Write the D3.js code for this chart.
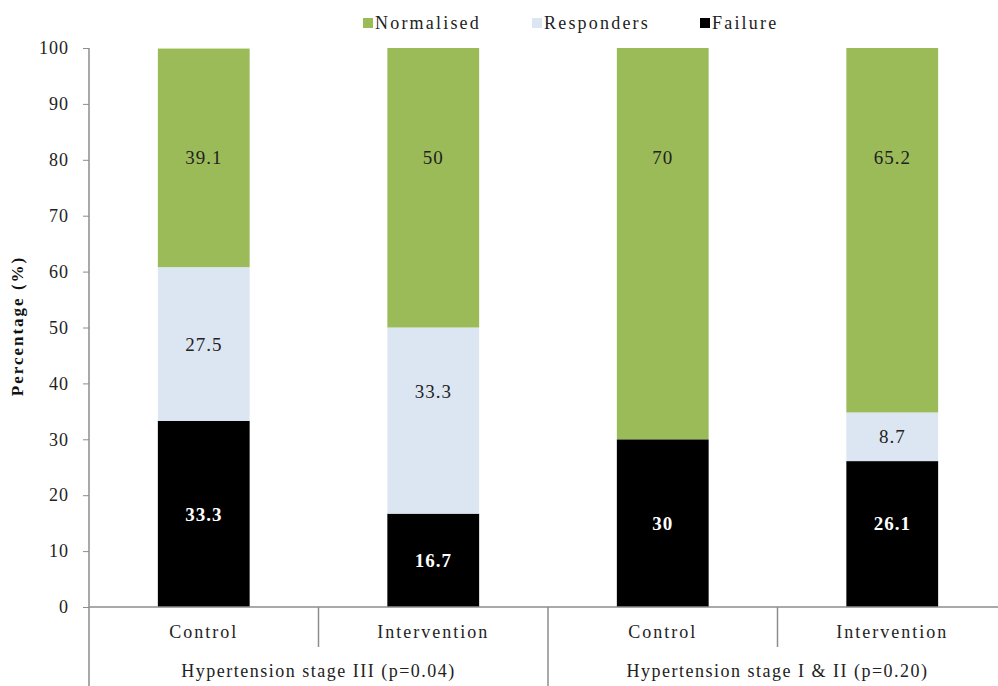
<!DOCTYPE html>
<html><head><meta charset="utf-8">
<script src="https://cdn.jsdelivr.net/npm/d3@7"></script>
<style>body{margin:0;background:#fff}</style>
</head><body>
<svg id="c" width="998" height="686"></svg>
<script>
const categories = ["Control","Intervention","Control","Intervention"];
const groups = ["Hypertension stage III (p=0.04)","Hypertension stage I & II (p=0.20)"];
const failure = [33.3,16.7,30,26.1];
const responders = [27.5,33.3,0,8.7];
const normalised = [39.1,50,70,65.2];
const seriesNames = ["Normalised","Responders","Failure"];
const yTicks = [0,10,20,30,40,50,60,70,80,90,100];
const colors = {Failure:"#000000",Responders:"#DCE6F2",Normalised:"#9BBB59"};
// layout: where the data labels sit (in axis units), null = middle of segment
const labelAnchor = {
  Failure:[null,null,null,15],
  Responders:[null,38.5,null,null],
  Normalised:[80.4,80.4,80.4,80.4]
};

const svg = d3.select("#c");
const font = "'Liberation Serif','Times New Roman',serif";
const x0 = 89, x1 = 1007, yTop = 48, yBot = 607;
const y = d3.scaleLinear().domain([0,100]).range([yBot,yTop]);
const x = d3.scaleBand().domain(d3.range(categories.length)).range([x0,x1]).paddingInner(0.6).paddingOuter(0.3);
const xb = d3.scaleBand().domain(d3.range(categories.length)).range([x0,x1]);

const rows = categories.map((c,i)=>({i,Failure:failure[i],Responders:responders[i],Normalised:normalised[i]}));
const stack = d3.stack().keys(["Failure","Responders","Normalised"])(rows);

stack.forEach(layer=>{
  svg.append("g").selectAll("rect").data(layer).join("rect")
    .attr("x",d=>x(d.data.i)).attr("width",x.bandwidth())
    .attr("y",d=>y(d[1])).attr("height",d=>y(d[0])-y(d[1]))
    .attr("fill",colors[layer.key]);
});
stack.forEach(layer=>{
  svg.append("g").selectAll("text").data(layer.filter(d=>d[1]-d[0]>0)).join("text")
    .attr("x",d=>x(d.data.i)+x.bandwidth()/2)
    .attr("y",d=>{const a=labelAnchor[layer.key][d.data.i];return y(a==null?(d[0]+d[1])/2:a);})
    .attr("dy","0.35em")
    .attr("text-anchor","middle")
    .attr("font-family",font).attr("font-size",19).attr("letter-spacing",1)
    .attr("font-weight",layer.key==="Failure"?"bold":"normal")
    .attr("fill",layer.key==="Failure"?"#fff":"#222")
    .text(d=>d.data[layer.key]);
});

// y axis
const axisColor="#8c8c8c";
const ya = svg.append("g").attr("transform",`translate(${x0},0)`)
  .call(d3.axisLeft(y).tickValues(yTicks).tickSize(6).tickPadding(14));
ya.select(".domain").remove();
ya.selectAll("line").attr("stroke",axisColor);
ya.selectAll("text").attr("font-family",font).attr("font-size",18).attr("letter-spacing",1).attr("fill","#222");
svg.append("line").attr("x1",x0).attr("x2",x0).attr("y1",yTop).attr("y2",686).attr("stroke",axisColor).attr("stroke-width",1.5);
svg.append("line").attr("x1",x0).attr("x2",998).attr("y1",yBot).attr("y2",yBot).attr("stroke",axisColor).attr("stroke-width",1.5);

// category labels & dividers
categories.forEach((c,i)=>{
  svg.append("text").attr("x",xb(i)+xb.bandwidth()/2).attr("y",638)
    .attr("text-anchor","middle").attr("font-family",font).attr("font-size",18).attr("letter-spacing",2).attr("fill","#222").text(c);
});
[1,3].forEach(i=>{
  svg.append("line").attr("x1",xb(i)).attr("x2",xb(i)).attr("y1",yBot).attr("y2",647).attr("stroke",axisColor).attr("stroke-width",1.5);
});
svg.append("line").attr("x1",xb(2)).attr("x2",xb(2)).attr("y1",yBot).attr("y2",686).attr("stroke",axisColor).attr("stroke-width",1.5);
groups.forEach((g,j)=>{
  svg.append("text").attr("x",(xb(j*2)+xb(j*2+1)+xb.bandwidth())/2).attr("y",677)
    .attr("text-anchor","middle").attr("font-family",font).attr("font-size",18).attr("letter-spacing",1.5).attr("fill","#222").text(g);
});

// y title
svg.append("text").attr("transform","translate(23,326) rotate(-90)")
  .attr("text-anchor","middle").attr("font-family",font).attr("font-size",17).attr("letter-spacing",2).attr("font-weight","bold").attr("fill","#111").text("Percentage (%)");

// legend
const legX = [363,532,700];
seriesNames.forEach((s,k)=>{
  svg.append("rect").attr("x",legX[k]).attr("y",18).attr("width",10).attr("height",10).attr("fill",colors[s]);
  svg.append("text").attr("x",legX[k]+12).attr("y",29).attr("font-family",font).attr("font-size",18).attr("letter-spacing",2.2).attr("fill","#222").text(s);
});
</script>
</body></html>
